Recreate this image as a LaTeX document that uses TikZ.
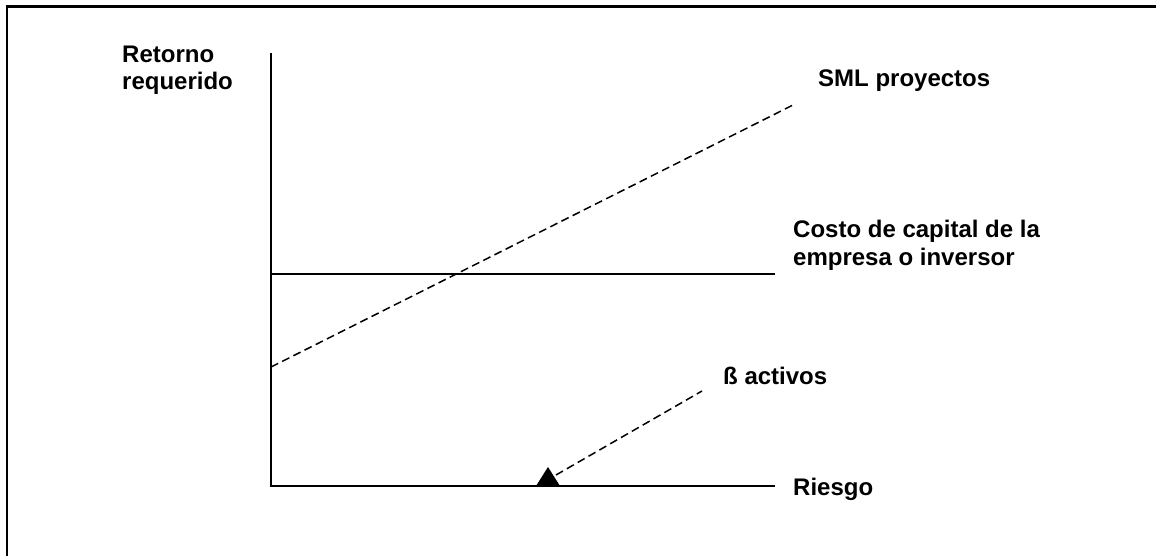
\documentclass[tikz,border=0pt]{standalone}
\usepackage{fontspec}
\setmainfont{Liberation Sans}
\begin{document}
\begin{tikzpicture}[x=1pt,y=-1pt,
  lbl/.style={anchor=base west,inner sep=0pt,font=\fontsize{24}{27.5}\selectfont\bfseries,align=left},
  axisline/.style={line width=2pt},
  solidline/.style={line width=1.5pt},
  dashline/.style={line width=1.5pt,dash pattern=on 8pt off 4.5pt}]
\useasboundingbox (0,0) rectangle (1156,556);
% frame
\coordinate (f0) at (7,556);
\coordinate (f1) at (7,6.5);
\coordinate (f2) at (1156,6.5);
\draw[line width=2.2pt] (f0) -- (f1) -- (f2);
% axes
\coordinate (O) at (271,486);
\coordinate (Ytop) at (271,53);
\coordinate (Xend) at (775,486);
\draw[axisline] (Ytop) -- (O) -- (Xend);
% cost of capital
\coordinate (C0) at (271,274);
\coordinate (C1) at (775,274);
\draw[solidline] (C0) -- (C1);
% SML
\coordinate (S0) at (271,367);
\coordinate (S1) at (795,104);
\draw[dashline] (S0) -- (S1);
% beta marker
\coordinate (T1) at (536,486);
\coordinate (T2) at (548,467);
\coordinate (T3) at (560,486);
\fill (T1) -- (T2) -- (T3) -- cycle;
\coordinate (B0) at (556,475);
\coordinate (B1) at (702,391);
\draw[dashline] (B0) -- (B1);
% labels (multi-line nodes: base = last line)
\node[lbl] (ret) at (122,90) {Retorno\\requerido};
\node[lbl] (sml) at (818,87) {SML proyectos};
\node[lbl] (cost) at (793,265) {Costo de capital de la\\empresa o inversor};
\node[lbl] (beta) at (723,384) {ß activos};
\node[lbl] (ries) at (793,495) {Riesgo};
\end{tikzpicture}
\end{document}
